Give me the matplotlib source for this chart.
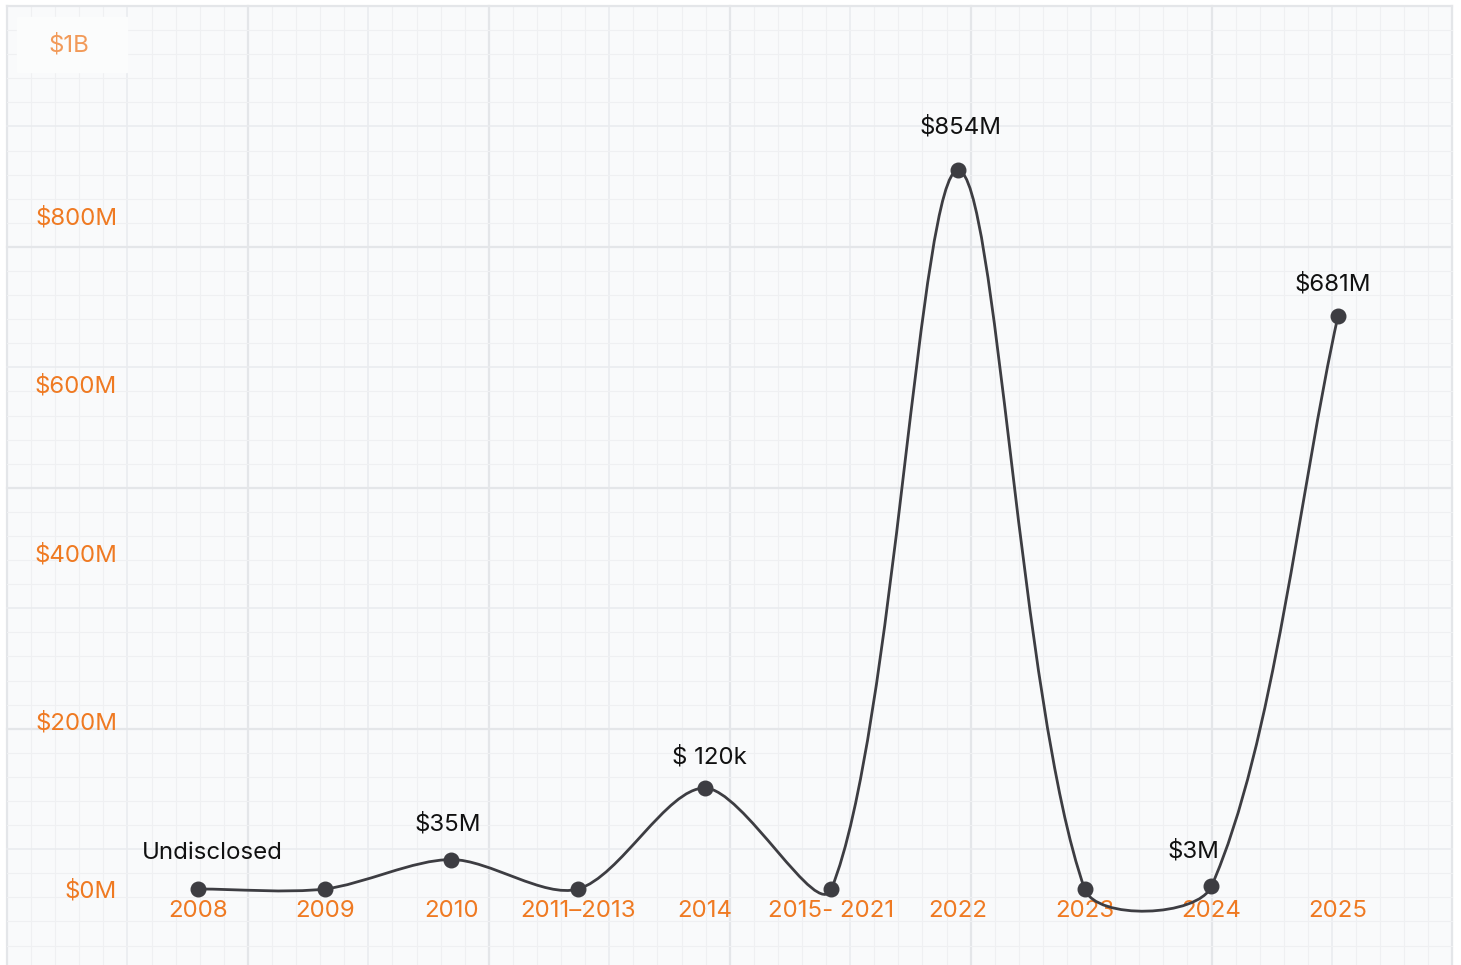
import numpy as np
import matplotlib
matplotlib.use("Agg")
import matplotlib.pyplot as plt
from matplotlib.path import Path
from matplotlib.patches import PathPatch, Rectangle

plt.rcParams['font.family'] = ['Inter', 'DejaVu Sans']

# data
periodos = ['2008', '2009', '2010', '2011–2013', '2014', '2015- 2021',
            '2022', '2023', '2024', '2025']
montos = [0, 0, 35, 0, 120, 0, 854, 0, 3, 681]  # millones USD
etiquetas = {0: 'Undisclosed', 2: '$35M', 4: '$ 120k', 6: '$854M', 8: '$3M', 9: '$681M'}
y_ticks = [0, 200, 400, 600, 800]
y_labels = ['$0M', '$200M', '$400M', '$600M', '$800M']

naranja = '#ef7a22'
gris = '#3d3d42'
fs = 17.3

W, H = 1461, 965
fig = plt.figure(figsize=(W / 100, H / 100), dpi=100)
fig.patch.set_facecolor('#ffffff')

# fondo tipo papel cuadriculado
bg = fig.add_axes([0, 0, 1, 1], zorder=0)
bg.set_xlim(0, W)
bg.set_ylim(H, 0)
bg.axis('off')
paso = 24.09
x_fin = 7 + 60 * paso
bg.add_patch(Rectangle((7, 6), x_fin - 7, H, color='#f9fafb', zorder=0))
for i in range(61):
    xx = 7 + i * paso
    if i % 10 == 0:
        c, lw = '#e4e6e9', 1.6
    elif i % 5 == 0:
        c, lw = '#eaecef', 1.2
    else:
        c, lw = '#eff0f2', 0.8
    bg.plot([xx, xx], [6, H], color=c, lw=lw, zorder=1)
for i in range(41):
    yy = 6 + i * paso
    if i % 10 == 0:
        c, lw = '#e4e6e9', 1.6
    elif i % 5 == 0:
        c, lw = '#eaecef', 1.2
    else:
        c, lw = '#eff0f2', 0.8
    bg.plot([7, x_fin], [yy, yy], color=c, lw=lw, zorder=1)
bg.add_patch(Rectangle((17, 17), 110, 55, color='#fbfcfc', zorder=2))

# ejes de datos (posicion en pixeles)
px_unit = 126.67
px_m = 0.8415
x0, y0 = 198, 889
xl = (-0.6, 9.6)
yl = (-4.75, 1010)
left = x0 + xl[0] * px_unit
right = x0 + xl[1] * px_unit
bottom = y0 - yl[0] * px_m
top = y0 - yl[1] * px_m
ax = fig.add_axes([left / W, (H - bottom) / H, (right - left) / W, (bottom - top) / H], zorder=1)
ax.set_facecolor('none')
ax.set_xlim(*xl)
ax.set_ylim(*yl)
for s in ax.spines.values():
    s.set_visible(False)

x = np.arange(len(periodos))
ax.set_xticks(x)
ax.set_xticklabels(periodos, color=naranja, fontsize=fs)
ax.set_yticks(y_ticks)
ax.set_yticklabels(y_labels, color=naranja, fontsize=fs)
ax.tick_params(length=0)
ax.tick_params(axis='x', pad=5)
ax.tick_params(axis='y', pad=3.5)
ax.text(-0.6 - 0.42, 1003, '$1B', color=naranja, alpha=0.75, fontsize=fs,
        ha='center', va='center', clip_on=False)

# curva suavizada estilo chart.js (tension 0.3)
pts = np.column_stack([x, montos]).astype(float)
disp = ax.transData.transform(pts)
n = len(pts)
t = 0.3
verts = [pts[0]]
codes = [Path.MOVETO]
cp_prev, cp_next = [], []
for i in range(n):
    p = pts[max(i - 1, 0)]
    nx = pts[min(i + 1, n - 1)]
    d01 = np.hypot(*(disp[i] - disp[max(i - 1, 0)]))
    d12 = np.hypot(*(disp[min(i + 1, n - 1)] - disp[i]))
    tot = d01 + d12
    s01 = d01 / tot if tot else 0
    s12 = d12 / tot if tot else 0
    cp_prev.append(pts[i] - t * s01 * (nx - p))
    cp_next.append(pts[i] + t * s12 * (nx - p))
for i in range(1, n):
    verts += [cp_next[i - 1], cp_prev[i], pts[i]]
    codes += [Path.CURVE4] * 3
ax.add_patch(PathPatch(Path(verts, codes), fill=False, edgecolor=gris, lw=2, clip_on=False, zorder=3))
ax.scatter(x, montos, s=110, color=gris, zorder=4, clip_on=False)

desp = {0: (14, 36), 2: (-4, 35), 4: (5, 31), 6: (2, 43), 8: (-18, 35), 9: (-5, 32)}
for i, txt in etiquetas.items():
    dx, dy = desp[i]
    ax.annotate(txt, (x[i], montos[i]), xytext=(dx * 0.72, dy * 0.72), textcoords='offset points',
                ha='center', va='center', fontsize=fs, color='#111111', zorder=5)

fig.savefig('out.png', dpi=100)
